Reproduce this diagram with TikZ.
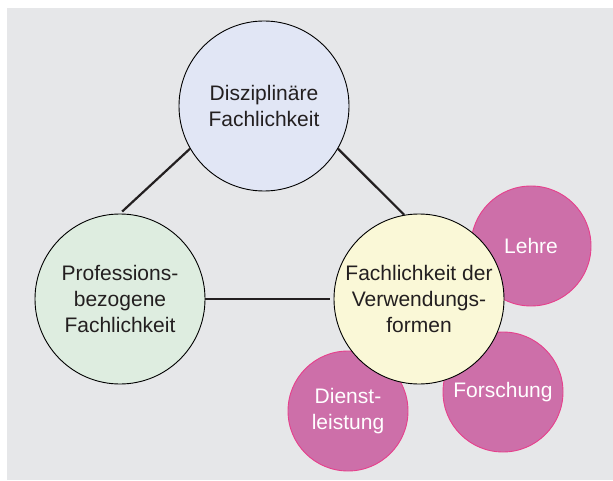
\documentclass[tikz,border=0pt]{standalone}
\usepackage{fontspec}
\setmainfont{Liberation Sans}
\definecolor{bggray}{HTML}{E6E7E9}
\definecolor{txtgray}{HTML}{231F20}
\definecolor{disblue}{HTML}{E1E6F5}
\definecolor{profgreen}{HTML}{DEEDE0}
\definecolor{verwyellow}{HTML}{FAF8D7}
\definecolor{formpink}{HTML}{CD6FA9}
\definecolor{formrim}{HTML}{E6408C}

\begin{document}
\begin{tikzpicture}[x=1pt, y=-1pt]
		\tikzset{bigcircle/.style={shape = circle, draw = black, line width = 0.9pt, minimum size = 170pt, inner sep = 0pt, align = center, text = txtgray, font = \fontsize{21}{26}\selectfont}}
		\tikzset{formcircle/.style={shape = circle, draw = formrim, line width = 0.9pt, fill = formpink, minimum size = 120pt, inner sep = 0pt, align = center, text = white, font = \fontsize{21}{26}\selectfont}}
		\tikzset{edge/.style={draw = txtgray, line width = 2.2pt}}
					\useasboundingbox (0,0) rectangle (613,481);
					\fill[bggray] (7,8) rectangle (613,480);
					%forms
					\node[formcircle] (lehre) at (531, 246) {Lehre};
					\node[formcircle] (forschung) at (503, 392) {Forschung};
					\node[formcircle] (dienst) at (348, 411) {Dienst-\\leistung};
					%vertices
					\node[bigcircle, fill = disblue] (dis) at (264, 106) {Disziplinäre\\Fachlichkeit};
					\node[bigcircle, fill = profgreen] (prof) at (120, 299) {Professions-\\bezogene\\Fachlichkeit};
					\node[bigcircle, fill = verwyellow] (verw) at (419, 299) {Fachlichkeit der\\Verwendungs-\\formen};
					%edges
					\path[edge] (dis.210) edge[shorten >= 3pt] (prof.north);
					\path[edge] (dis.330) edge (verw.100);
					\path[edge] (prof.east) edge[shorten >= 4pt] (verw.west);
					
					\end{tikzpicture}
\end{document}
